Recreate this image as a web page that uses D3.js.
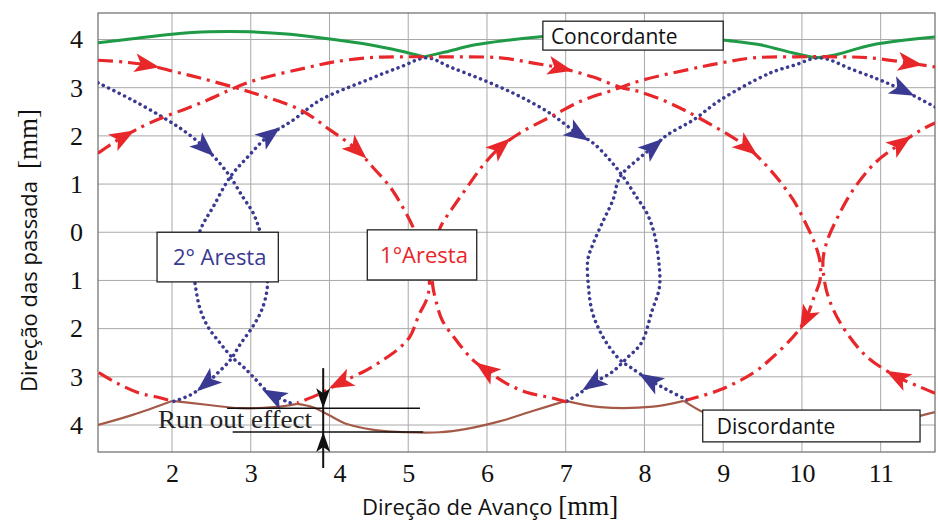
<!DOCTYPE html>
<html><head><meta charset="utf-8">
<script src="https://cdn.jsdelivr.net/npm/d3@7"></script>
<style>
body{margin:0;background:#fff;}
svg{display:block;}
</style></head><body>
<svg id="chart" width="938" height="524"></svg>
<script>
// ---------- data (mm) ----------
const xTicks = [2,3,4,5,6,7,8,9,10,11];
const yTicks = [-4,-3,-2,-1,0,1,2,3,4];

// 2° Aresta (blue, dotted) – drawn in travel direction
const blueA = [[1.06,3.10],[1.50,2.74],[1.94,2.33],[2.19,2.06],[2.42,1.75],[2.57,1.50],[2.74,1.15],[2.90,0.73],[3.03,0.40],[3.12,0.00],[3.19,-0.58],[3.21,-1.14],[3.14,-1.61],[3.02,-1.97],[2.86,-2.34],[2.74,-2.65],[2.58,-2.92],[2.44,-3.13],[2.23,-3.38],[2.00,-3.52]];
const blueB = [[3.50,-3.54],[3.24,-3.34],[3.03,-3.00],[2.91,-2.80],[2.76,-2.59],[2.61,-2.30],[2.46,-1.97],[2.36,-1.61],[2.30,-1.14],[2.27,-0.58],[2.36,0.05],[2.52,0.52],[2.74,1.15],[2.96,1.56],[3.21,1.98],[3.54,2.33],[3.88,2.74],[4.48,3.16],[4.90,3.43],[5.24,3.62],[5.53,3.43],[5.95,3.16],[6.38,2.85],[6.80,2.47],[7.14,2.06],[7.35,1.85],[7.56,1.50],[7.73,1.15],[7.90,0.73],[8.03,0.40],[8.12,0.00],[8.18,-0.58],[8.19,-1.14],[8.10,-1.61],[7.96,-2.30],[7.79,-2.59],[7.59,-2.90],[7.35,-3.13],[7.18,-3.34],[7.00,-3.52]];
const blueC = [[8.54,-3.48],[8.29,-3.27],[8.07,-3.07],[7.82,-2.80],[7.69,-2.65],[7.52,-2.30],[7.41,-1.97],[7.33,-1.61],[7.29,-1.14],[7.28,-0.58],[7.35,-0.23],[7.48,0.25],[7.60,0.67],[7.69,1.15],[7.95,1.56],[8.11,1.77],[8.29,2.02],[8.62,2.33],[8.96,2.74],[9.59,3.30],[9.91,3.47],[10.23,3.62],[10.65,3.37],[10.99,3.16],[11.28,2.95],[11.69,2.60]];

// 1° Aresta (red, dash-dot)
const redA = [[1.06,3.57],[1.40,3.53],[1.69,3.47],[2.04,3.33],[2.36,3.20],[2.99,2.91],[3.63,2.54],[4.01,2.12],[4.35,1.71],[4.55,1.35],[4.77,0.94],[4.93,0.52],[5.06,0.11],[5.15,-0.26],[5.23,-0.68],[5.27,-1.09],[5.23,-1.41],[5.14,-1.70],[5.02,-2.17],[4.86,-2.44],[4.68,-2.65],[4.47,-2.86],[4.13,-3.13],[3.84,-3.38],[3.59,-3.54]];
const redB = [[1.06,1.64],[1.21,1.81],[1.38,1.98],[1.72,2.27],[2.36,2.68],[2.99,3.12],[3.75,3.43],[4.04,3.53],[4.48,3.62],[4.90,3.64],[5.41,3.64],[6.17,3.62],[6.59,3.51],[6.93,3.41],[7.35,3.22],[7.69,3.01],[7.95,2.91],[8.32,2.68],[8.74,2.33],[9.30,1.77],[9.60,1.29],[9.89,0.67],[10.07,0.11],[10.17,-0.26],[10.23,-0.62],[10.23,-0.99],[10.15,-1.36],[10.06,-1.76],[9.93,-2.09],[9.63,-2.59],[9.38,-2.92],[8.96,-3.27],[8.54,-3.48]];
const redC = [[7.01,-3.52],[6.83,-3.44],[6.50,-3.32],[6.24,-3.13],[5.99,-2.86],[5.82,-2.65],[5.61,-2.24],[5.43,-1.82],[5.35,-1.41],[5.31,-1.09],[5.31,-0.68],[5.35,-0.26],[5.41,0.11],[5.57,0.52],[5.75,0.94],[5.95,1.39],[6.17,1.77],[6.42,2.06],[6.80,2.39],[7.22,2.74],[7.60,2.95],[7.98,3.16],[8.54,3.37],[8.96,3.51],[9.38,3.62],[9.89,3.64],[10.45,3.64],[10.87,3.62],[11.37,3.51],[11.69,3.43]];
const redD = [[11.69,-3.34],[11.50,-3.21],[11.21,-3.00],[10.83,-2.59],[10.57,-2.09],[10.40,-1.61],[10.31,-1.20],[10.27,-0.80],[10.27,-0.53],[10.32,-0.18],[10.45,0.30],[10.65,0.88],[10.93,1.44],[11.26,1.85],[11.51,2.12],[11.69,2.27]];
const redE = [[1.95,-3.48],[1.81,-3.42],[1.59,-3.34],[1.30,-3.13],[1.06,-2.90]];

// envelopes
const concordante = [[1.06,3.93],[1.47,4.01],[2.00,4.11],[2.48,4.16],[2.99,4.16],[3.50,4.11],[4.01,4.01],[4.51,3.89],[4.90,3.76],[5.20,3.64],[5.47,3.74],[5.85,3.89],[6.29,3.99],[6.74,4.07],[7.18,4.11],[7.69,4.14],[8.20,4.11],[8.71,4.05],[9.00,3.99],[9.47,3.89],[9.89,3.72],[10.17,3.62],[10.42,3.68],[10.90,3.89],[11.69,4.05]];
const discordante = [[1.06,-4.00],[1.50,-3.79],[2.00,-3.50],[2.44,-3.58],[2.86,-3.65],[3.29,-3.63],[3.59,-3.56],[3.79,-3.63],[4.01,-3.81],[4.22,-3.98],[4.56,-4.10],[4.98,-4.15],[5.40,-4.15],[5.74,-4.08],[6.17,-3.92],[6.58,-3.71],[7.00,-3.50],[7.44,-3.63],[8.11,-3.62],[8.50,-3.50],[8.74,-3.73],[8.96,-3.85],[9.34,-4.04],[9.85,-4.12],[10.36,-4.12],[10.86,-4.04],[11.24,-3.92],[11.50,-3.81],[11.69,-3.73]];

// arrow heads: [series, x, y]
const blueArrows = [["blueA",2.42,1.77],["blueA",2.44,-3.11],["blueB",3.31,-3.34],["blueB",3.24,2.02],["blueB",7.16,2.06],["blueB",7.35,-3.13],["blueC",8.07,-3.07],["blueC",8.11,1.77],["blueC",11.28,2.95]];
const redArrows = [["redA",1.68,3.47],["redA",4.35,1.71],["redA",4.14,-3.13],["redB",1.38,1.98],["redB",6.93,3.41],["redB",9.30,1.77],["redB",10.01,-1.76],["redC",5.99,-2.86],["redC",6.17,1.77],["redC",11.37,3.51],["redD",11.21,-3.00],["redD",11.25,1.85]];

// run-out annotation levels
const runoutLevels = [-3.65,-4.145];

// ---------- drawing ----------
const svg = d3.select("#chart");
const L = 98, R = 935, T = 13, B = 452;
const x = d3.scaleLinear().domain([1.06,11.69]).range([L,R]);
const y = d3.scaleLinear().domain([-4.56,4.55]).range([B,T]);

const BLUE = "#3a3a92", RED = "#e8272b", GREEN = "#1f9a46", BROWN = "#a55a48";
const SANS = "'Open Sans', 'Noto Sans', sans-serif";
const SERIF = "'Liberation Serif', 'DejaVu Serif', serif";

svg.append("rect").attr("width",938).attr("height",524).attr("fill","#fff");

// grid
const grid = svg.append("g");
grid.selectAll(".vg").data(xTicks).join("line")
  .attr("x1",d=>x(d)).attr("x2",d=>x(d)).attr("y1",T).attr("y2",B)
  .attr("stroke","#a8a8a8").attr("stroke-width",1);
grid.selectAll(".hg").data(yTicks).join("line")
  .attr("x1",L).attr("x2",R).attr("y1",d=>y(d)).attr("y2",d=>y(d))
  .attr("stroke","#a8a8a8").attr("stroke-width",1);

// axes
const xAxis = svg.append("g").attr("transform",`translate(0,${B})`)
  .call(d3.axisBottom(x).tickValues(xTicks).tickSize(0).tickPadding(12).tickFormat(d3.format("d")));
xAxis.select(".domain").remove();
xAxis.selectAll("text").attr("font-family",SERIF).attr("font-size",26).attr("fill","#111")
  .attr("dx",d=>d===4?10:0);

const yAxis = svg.append("g").attr("transform",`translate(${L},0)`)
  .call(d3.axisLeft(y).tickValues(yTicks).tickSize(0).tickPadding(15).tickFormat(d=>Math.abs(d)));
yAxis.select(".domain").remove();
yAxis.selectAll("text").attr("font-family",SERIF).attr("font-size",26).attr("fill","#111");

// frame
svg.append("rect").attr("x",L).attr("y",T).attr("width",R-L).attr("height",B-T)
  .attr("fill","none").attr("stroke","#6a6a6a").attr("stroke-width",1.2);

svg.append("clipPath").attr("id","plotclip").append("rect")
  .attr("x",L).attr("y",T).attr("width",R-L).attr("height",B-T);
const plot = svg.append("g").attr("clip-path","url(#plotclip)");

const smooth = d3.line().x(d=>x(d[0])).y(d=>y(d[1])).curve(d3.curveCatmullRom.alpha(0.5));

// split an envelope at its cusps (strict local extrema of given sign)
function splitAtCusps(arr, sign){
  const parts=[]; let cur=[arr[0]];
  for(let i=1;i<arr.length;i++){
    cur.push(arr[i]);
    if(i<arr.length-1 && sign*(arr[i][1]-arr[i-1][1])>0 && sign*(arr[i][1]-arr[i+1][1])>0 && Math.abs(arr[i][1]-arr[i-1][1])>0.05){
      parts.push(cur); cur=[arr[i]];
    }
  }
  parts.push(cur); return parts;
}

// envelopes
splitAtCusps(concordante,-1).forEach(p=>plot.append("path").attr("d",smooth(p))
  .attr("fill","none").attr("stroke",GREEN).attr("stroke-width",3));
splitAtCusps(discordante,1).forEach(p=>plot.append("path").attr("d",smooth(p))
  .attr("fill","none").attr("stroke",BROWN).attr("stroke-width",2.2));

const paths = {};
const blueSeries = {blueA, blueB, blueC};
const redSeries = {redA, redB, redC, redD, redE};
Object.entries(blueSeries).forEach(([k,arr])=>{
  paths[k] = plot.append("path").attr("d",smooth(arr)).attr("fill","none")
    .attr("stroke",BLUE).attr("stroke-width",3.5).attr("stroke-linecap","round")
    .attr("stroke-dasharray","0.1 5.8").node();
});
Object.entries(redSeries).forEach(([k,arr])=>{
  paths[k] = plot.append("path").attr("d",smooth(arr)).attr("fill","none")
    .attr("stroke",RED).attr("stroke-width",3.2).attr("stroke-dasharray","15 6 3 6").node();
});

function addArrow(key, dx, dy, color){
  const node = paths[key];
  const px = x(dx), py = y(dy);
  const len = node.getTotalLength();
  let best=0, bd=Infinity;
  for(let l=0;l<=len;l+=0.5){
    const p=node.getPointAtLength(l); const d=(p.x-px)**2+(p.y-py)**2;
    if(d<bd){bd=d;best=l;}
  }
  const p0=node.getPointAtLength(Math.max(0,best-3)), p1=node.getPointAtLength(Math.min(len,best+3));
  const ang=Math.atan2(p1.y-p0.y,p1.x-p0.x)*180/Math.PI;
  const c=node.getPointAtLength(best);
  plot.append("path").attr("d","M13,0 L-12,-9.5 L-6,0 L-12,9.5 Z")
    .attr("transform",`translate(${c.x},${c.y}) rotate(${ang})`).attr("fill",color);
}
blueArrows.forEach(a=>addArrow(a[0],a[1],a[2],BLUE));
redArrows.forEach(a=>addArrow(a[0],a[1],a[2],RED));

// label boxes
function box(x0,y0,x1,y1,txt,color,anchor,tx,fs){
  const g=svg.append("g");
  g.append("rect").attr("x",x(x0)).attr("y",y(y0)).attr("width",x(x1)-x(x0)).attr("height",y(y1)-y(y0))
    .attr("fill","#fff").attr("stroke","#222").attr("stroke-width",1.3);
  const h=y(y1)-y(y0);
  g.append("text").attr("x",anchor==="middle"?(x(x0)+x(x1))/2+2:x(x0)+tx)
    .attr("y",y(y0)+h/2+8).attr("text-anchor",anchor)
    .attr("font-family",SANS).attr("font-size",fs).attr("fill",color).text(txt);
}
box(6.71,4.38,9.00,3.78,"Concordante","#111","start",8,21);
box(1.81,0.00,3.35,-1.03,"2° Aresta",BLUE,"middle",0,22);
box(4.48,0.05,5.87,-0.99,"1°Aresta",RED,"middle",0,22);
box(8.74,-3.69,11.50,-4.35,"Discordante","#111","start",14,21);

// run out annotation
const ann = svg.append("g");
ann.append("line").attr("x1",x(2.70)).attr("x2",x(5.15)).attr("y1",y(runoutLevels[0])).attr("y2",y(runoutLevels[0]))
  .attr("stroke","#111").attr("stroke-width",1.5);
ann.append("line").attr("x1",x(2.77)).attr("x2",x(5.19)).attr("y1",y(runoutLevels[1])).attr("y2",y(runoutLevels[1]))
  .attr("stroke","#111").attr("stroke-width",1.5);
const vx = x(3.92);
ann.append("line").attr("x1",vx).attr("x2",vx).attr("y1",y(runoutLevels[0])-40).attr("y2",y(runoutLevels[1])+36)
  .attr("stroke","#111").attr("stroke-width",2);
ann.append("path").attr("d",`M${vx},${y(runoutLevels[0])} l-7,-20 l7,5 l7,-5 Z`).attr("fill","#111");
ann.append("path").attr("d",`M${vx},${y(runoutLevels[1])} l-7,20 l7,-5 l7,5 Z`).attr("fill","#111");
ann.append("text").attr("x",158).attr("y",428).attr("font-family",SERIF).attr("font-size",26)
  .attr("textLength",154).attr("lengthAdjust","spacingAndGlyphs")
  .attr("fill","#222").text("Run out effect");

// axis titles
const xt = svg.append("text").attr("x",362).attr("y",515).attr("font-size",22).attr("fill","#111");
xt.append("tspan").attr("font-family",SANS).text("Direção de Avanço ");
xt.append("tspan").attr("font-family",SERIF).attr("font-size",27).text("[mm]");

const yt = svg.append("text").attr("transform","translate(37,392) rotate(-90)").attr("font-size",22).attr("fill","#111");
yt.append("tspan").attr("font-family",SANS).text("Direção das passada");
yt.append("tspan").attr("font-family",SERIF).attr("font-size",27).attr("dx",12).text("[mm]");
</script>
</body></html>
